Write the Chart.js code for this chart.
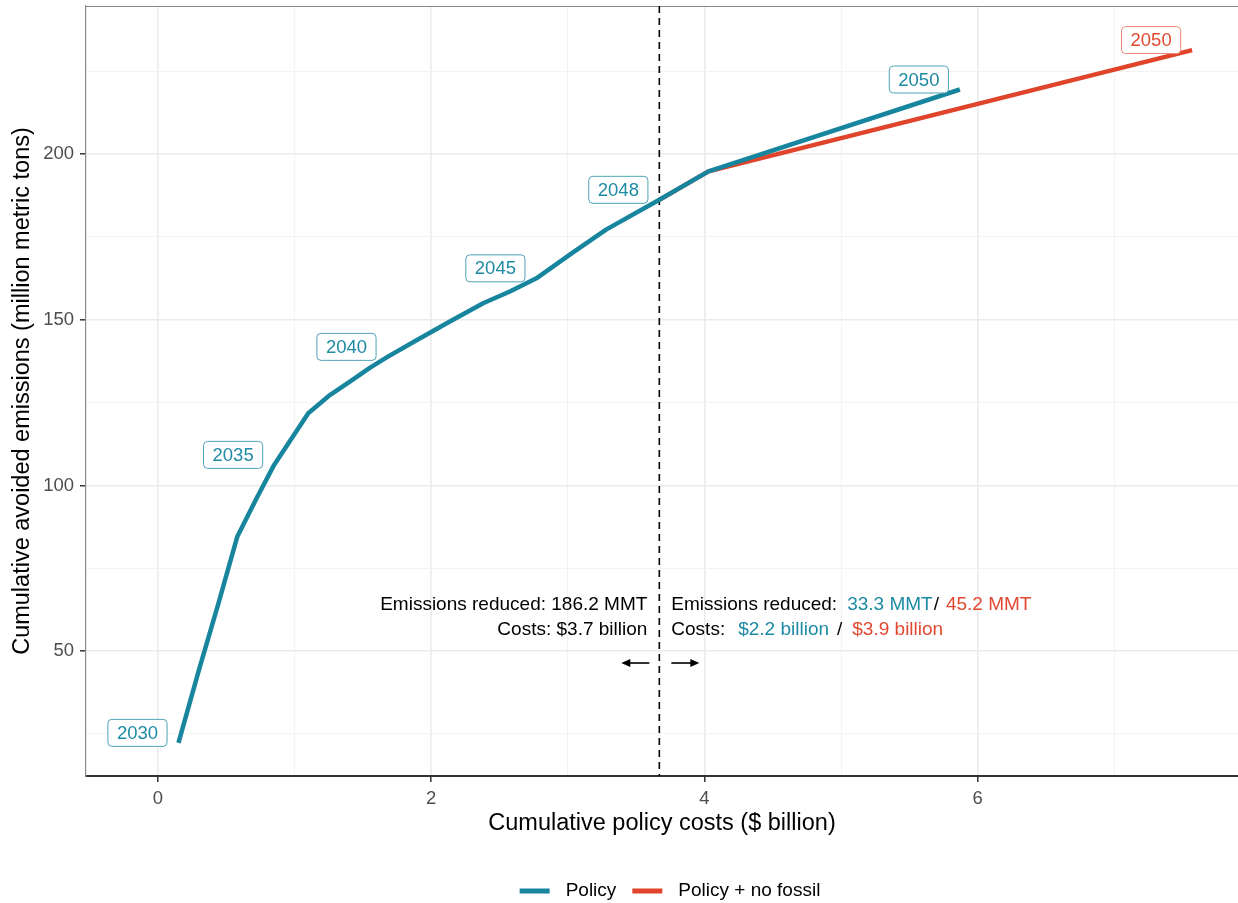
<!DOCTYPE html>
<html lang="en">
<head>
<meta charset="UTF-8">
<title>Cumulative avoided emissions vs policy costs</title>
<script src="https://cdn.jsdelivr.net/npm/chart.js@4/dist/chart.umd.min.js"></script>
<style>
  html, body { margin: 0; padding: 0; background: #fff; }
  #wrap { width: 1238px; height: 903px; position: relative; }
</style>
</head>
<body>
<div id="wrap"><canvas id="chart"></canvas></div>
<script>
// data
const years       = [2030, 2031, 2032, 2033, 2034, 2035, 2036, 2037, 2038, 2039, 2040,
                     2041, 2042, 2043, 2044, 2045, 2046, 2047, 2048, 2049, 2050];
const policyCost  = [0.15, 0.30, 0.44, 0.58, 0.72, 0.85, 1.10, 1.25, 1.41, 1.55, 1.68,
                     1.88, 2.13, 2.38, 2.58, 2.77, 3.02, 3.28, 3.67, 4.03, 5.87];
const policyEmis  = [22.3, 44.3, 64.0, 84.5, 96.0, 106.2, 121.8, 127.0, 131.5, 135.5, 138.8,
                     143.5, 149.3, 155.0, 158.6, 162.5, 169.8, 177.2, 186.2, 194.8, 219.5];
const fossilYears = [2048, 2049, 2050];
const fossilCost  = [3.67, 4.03, 7.57];
const fossilEmis  = [186.2, 194.8, 231.4];
const labelYears  = [2030, 2035, 2040, 2045, 2048, 2050];
const splitCost   = 3.67;
const xTicks      = [0, 2, 4, 6];
const yTicks      = [50, 100, 150, 200];

const BLUE = '#17859E', RED = '#E0442A';
const BLUE_TXT = '#1E8BA5', RED_TXT = '#E34830';
const FONT = '"Liberation Sans", Arial, sans-serif';

const policyPts = years.map((y, i) => ({ x: policyCost[i], y: policyEmis[i], year: y }));
const fossilPts = fossilYears.map((y, i) => ({ x: fossilCost[i], y: fossilEmis[i], year: y }));

function roundRect(ctx, x, y, w, h, r) {
  ctx.beginPath();
  ctx.moveTo(x + r, y);
  ctx.arcTo(x + w, y, x + w, y + h, r);
  ctx.arcTo(x + w, y + h, x, y + h, r);
  ctx.arcTo(x, y + h, x, y, r);
  ctx.arcTo(x, y, x + w, y, r);
  ctx.closePath();
}

function arrow(ctx, x0, x1, y) {
  const dir = Math.sign(x1 - x0);
  ctx.beginPath();
  ctx.moveTo(x0, y); ctx.lineTo(x1 - dir * 6, y); ctx.stroke();
  ctx.beginPath();
  ctx.moveTo(x1, y); ctx.lineTo(x1 - dir * 9, y - 4); ctx.lineTo(x1 - dir * 9, y + 4);
  ctx.closePath(); ctx.fill();
}

// piecewise coloured text
function runs(ctx, x, y, parts) {
  ctx.textAlign = 'left';
  parts.forEach(p => {
    ctx.fillStyle = p.c;
    ctx.fillText(p.t, x, y);
    x += ctx.measureText(p.t).width + (p.gap || 0);
  });
  return x;
}

const extras = {
  id: 'extras',
  beforeDatasetsDraw(chart) {
    const { ctx, chartArea: a, scales: { x } } = chart;
    ctx.save();
    ctx.strokeStyle = '#8a8a8a'; ctx.lineWidth = 1.2;
    ctx.beginPath(); ctx.moveTo(a.left, a.top + 0.5); ctx.lineTo(a.right, a.top + 0.5); ctx.stroke();
    const xd = x.getPixelForValue(splitCost);
    ctx.strokeStyle = '#000'; ctx.lineWidth = 1.6; ctx.setLineDash([7, 5]);
    ctx.beginPath(); ctx.moveTo(xd, a.top); ctx.lineTo(xd, a.bottom); ctx.stroke();
    ctx.setLineDash([]);
    ctx.restore();
  },
  afterDatasetsDraw(chart) {
    const { ctx, scales: { x, y } } = chart;
    const xd = x.getPixelForValue(splitCost);
    ctx.save();
    ctx.font = '19px ' + FONT;
    ctx.textBaseline = 'middle';
    const y1 = y.getPixelForValue(63.9), y2 = y.getPixelForValue(56.4), y3 = y.getPixelForValue(46.4);
    ctx.fillStyle = '#000'; ctx.textAlign = 'right';
    ctx.fillText('Emissions reduced: 186.2 MMT', xd - 12, y1);
    ctx.fillText('Costs: $3.7 billion', xd - 12, y2);
    runs(ctx, xd + 12, y1, [
      { t: 'Emissions reduced:', c: '#000', gap: 10 },
      { t: '33.3 MMT', c: BLUE_TXT, gap: 1 },
      { t: '/', c: '#000', gap: 7 },
      { t: '45.2 MMT', c: RED_TXT }
    ]);
    runs(ctx, xd + 12, y2, [
      { t: 'Costs:', c: '#000', gap: 13 },
      { t: '$2.2 billion', c: BLUE_TXT, gap: 8 },
      { t: '/', c: '#000', gap: 10 },
      { t: '$3.9 billion', c: RED_TXT }
    ]);
    ctx.strokeStyle = '#000'; ctx.fillStyle = '#000'; ctx.lineWidth = 1.6;
    arrow(ctx, xd - 10, xd - 38, y3);
    arrow(ctx, xd + 12, xd + 40, y3);

    // year labels
    ctx.font = '18.5px ' + FONT;
    const drawLabel = (p, txt, border) => {
      const px = x.getPixelForValue(p.x) - 41, py = y.getPixelForValue(p.y) - 10;
      const w = ctx.measureText(String(p.year)).width + 18, h = 27;
      roundRect(ctx, px - w / 2, py - h / 2, w, h, 4);
      ctx.fillStyle = '#fff'; ctx.fill();
      ctx.strokeStyle = border; ctx.lineWidth = 1; ctx.stroke();
      ctx.fillStyle = txt; ctx.textAlign = 'center';
      ctx.fillText(String(p.year), px, py + 1);
    };
    policyPts.filter(p => labelYears.includes(p.year)).forEach(p => drawLabel(p, BLUE_TXT, '#4FA3B8'));
    drawLabel(fossilPts[fossilPts.length - 1], RED_TXT, '#EC8878');

    // legend
    ctx.font = '19px ' + FONT;
    const items = [{ t: 'Policy', c: BLUE }, { t: 'Policy + no fossil', c: RED }];
    const ly = 891, sw = 30, gapSw = 16, gapItem = 16;
    let total = 0;
    items.forEach((it, i) => { total += sw + gapSw + ctx.measureText(it.t).width + (i ? 0 : gapItem); });
    let lx = 670 - total / 2;
    items.forEach(it => {
      ctx.fillStyle = it.c;
      ctx.fillRect(lx, ly - 2.5, sw, 5);
      lx += sw + gapSw;
      ctx.fillStyle = '#000'; ctx.textAlign = 'left';
      ctx.fillText(it.t, lx, ly);
      lx += ctx.measureText(it.t).width + gapItem;
    });
    ctx.restore();
  }
};

const major = (v, list) => list.includes(v);

new Chart(document.getElementById('chart'), {
  type: 'scatter',
  data: {
    datasets: [
      { label: 'Policy', data: policyPts, showLine: true, borderColor: BLUE, backgroundColor: BLUE,
        borderWidth: 4.5, pointRadius: 0, borderJoinStyle: 'round', borderCapStyle: 'butt' },
      { label: 'Policy + no fossil', data: fossilPts, showLine: true, borderColor: RED, backgroundColor: RED,
        borderWidth: 4.5, pointRadius: 0, borderJoinStyle: 'round', borderCapStyle: 'butt' }
    ]
  },
  options: {
    responsive: true,
    maintainAspectRatio: false,
    animation: false,
    layout: { padding: { top: 6, right: 0, bottom: 65, left: 0 } },
    plugins: { legend: { display: false }, tooltip: { enabled: false } },
    scales: {
      x: {
        type: 'linear', min: -0.527, max: 7.906,
        afterFit: s => { s.height = 62; s.paddingLeft = 0; s.paddingRight = 0; },
        ticks: { stepSize: 1, includeBounds: false, autoSkip: false, maxRotation: 0,
                 color: '#4D4D4D', font: { family: FONT, size: 18.5 }, padding: 6,
                 callback: v => major(v, xTicks) ? String(v) : '' },
        grid: {
          color: c => major(c.tick.value, xTicks) ? '#EBEBEB' : '#F3F3F3',
          lineWidth: c => major(c.tick.value, xTicks) ? 1.6 : 1,
          tickColor: c => major(c.tick.value, xTicks) ? '#333' : 'rgba(0,0,0,0)',
          tickLength: 6, tickWidth: 1.5
        },
        border: { color: '#333', width: 2 },
        title: { display: true, text: 'Cumulative policy costs ($ billion)', color: '#000',
                 font: { family: FONT, size: 23.5 }, padding: { top: 0, bottom: 0 } }
      },
      y: {
        type: 'linear', min: 12.3, max: 244.7,
        afterFit: s => { s.width = 86; s.paddingTop = 0; s.paddingBottom = 0; },
        ticks: { stepSize: 25, includeBounds: false, autoSkip: false,
                 color: '#4D4D4D', font: { family: FONT, size: 18.5 }, padding: 6,
                 callback: v => major(v, yTicks) ? String(v) : '' },
        grid: {
          color: c => major(c.tick.value, yTicks) ? '#EBEBEB' : '#F3F3F3',
          lineWidth: c => major(c.tick.value, yTicks) ? 1.6 : 1,
          tickColor: c => major(c.tick.value, yTicks) ? '#333' : 'rgba(0,0,0,0)',
          tickLength: 6, tickWidth: 1.5
        },
        border: { color: '#8a8a8a', width: 1.2 },
        title: { display: true, text: 'Cumulative avoided emissions (million metric tons)', color: '#000',
                 font: { family: FONT, size: 23.5 }, padding: { top: 8, bottom: 0 } }
      }
    }
  },
  plugins: [extras]
});
</script>
</body>
</html>
